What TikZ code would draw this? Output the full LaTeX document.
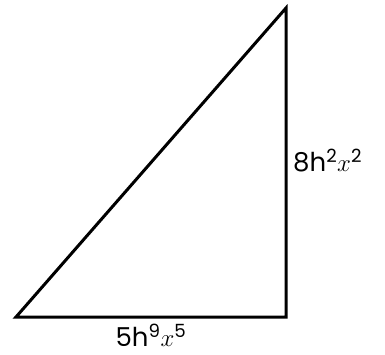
\documentclass[tikz,border=0pt]{standalone}
\usepackage{fontspec}
\setmainfont{Poppins}
\usetikzlibrary{positioning}

\begin{document}
\begin{tikzpicture}[x=1pt, y=-1pt, every node/.style={font=\fontsize{26}{28}\selectfont, inner sep=0pt}]
	\useasboundingbox (0,0) rectangle (385,354);
	% corners of the triangle
	\coordinate (A) at (16,317);
	\coordinate (B) at (286,317);
	\coordinate (C) at (286,8);
	\draw[line width=3pt, line join=miter] (A) -- (B) -- (C) -- cycle;
	% side labels
	\node (base) at (151,335) {5h\textsuperscript{9}$x$\textsuperscript{5}};
	\node[anchor=west] (height) at (293,161) {8h\textsuperscript{2}$x$\textsuperscript{2}};
\end{tikzpicture}
\end{document}
